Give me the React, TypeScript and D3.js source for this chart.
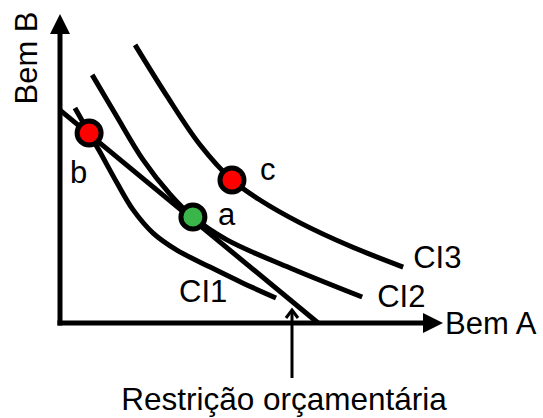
import * as React from 'react';
import {useEffect, useRef} from 'react';
import * as d3 from 'd3';

// data units: both axes run 0..100
const budgetLine = [[0, 68.9], [67.4, 0]];

const ci1 = [
    [3.9, 69.6], [7.6, 61.5], [10.4, 55.4], [14.9, 45.3], [19.1, 36.6],
    [24.3, 29.1], [30.5, 23.6], [39.2, 18.1], [47.8, 12.9], [56.4, 8.1]
];

const ci2 = [
    [8.4, 80.3], [14.6, 67.3], [21.7, 52.8], [28.7, 41.7], [34.7, 34.3],
    [43.6, 26.9], [60.1, 17.8], [78.9, 8.4]
];

const ci3 = [
    [19.6, 90.0], [27.9, 73.5], [36.6, 57.6], [44.9, 46.3], [52.2, 39.8],
    [62.7, 32.4], [75.7, 24.9], [89.6, 18.1]
];

const curveNames = ['CI1', 'CI2', 'CI3'];

const points = [
    {name: 'b', x: 7.6, y: 61.5, color: '#ff0000'},
    {name: 'a', x: 34.7, y: 34.3, color: '#39b54a'},
    {name: 'c', x: 44.9, y: 46.3, color: '#ff0000'}
];

const App = () => {
    const chartRef = useRef(null);
    const width = 543;
    const height = 418;

    useEffect(() => {
        const svg = d3.select(chartRef.current);
        svg.selectAll('*').remove();

        const font = '"Liberation Sans", Arial, sans-serif';
        const fs = 31;

        const xScale = d3.scaleLinear().domain([0, 100]).range([60, 443]);
        const yScale = d3.scaleLinear().domain([0, 100]).range([323, 14]);

        const line = d3.line()
            .x(d => xScale(d[0]))
            .y(d => yScale(d[1]))
            .curve(d3.curveCatmullRom.alpha(0.5));

        // axes
        svg.append('line')
            .attr('x1', xScale(0)).attr('y1', yScale(0) + 2.5)
            .attr('x2', xScale(0)).attr('y2', yScale(100) + 18)
            .attr('stroke', '#000').attr('stroke-width', 5);
        svg.append('path')
            .attr('d', `M${xScale(0)},${yScale(100)} L${xScale(0) - 10},${yScale(100) + 20} L${xScale(0) + 10},${yScale(100) + 20} Z`)
            .attr('fill', '#000');

        svg.append('line')
            .attr('x1', xScale(0) - 2.5).attr('y1', yScale(0))
            .attr('x2', xScale(100) - 18).attr('y2', yScale(0))
            .attr('stroke', '#000').attr('stroke-width', 5);
        svg.append('path')
            .attr('d', `M${xScale(100)},${yScale(0)} L${xScale(100) - 20},${yScale(0) - 10} L${xScale(100) - 20},${yScale(0) + 10} Z`)
            .attr('fill', '#000');

        svg.append('text')
            .attr('x', xScale(100) + 2).attr('y', yScale(0) + 11)
            .style('font-family', font).style('font-size', fs + 'px')
            .text('Bem A');

        svg.append('text')
            .attr('transform', `translate(37, 58) rotate(-90)`)
            .attr('text-anchor', 'middle')
            .style('font-family', font).style('font-size', fs + 'px')
            .text('Bem B');

        // budget line + indifference curves
        svg.append('path')
            .attr('d', d3.line()(budgetLine.map(d => [xScale(d[0]), yScale(d[1])])))
            .attr('fill', 'none').attr('stroke', '#000').attr('stroke-width', 5);

        const curves = [ci1, ci2, ci3];
        const labelOffsets = [[-97, 4], [15, 10], [10, 1]];
        curves.forEach((c, i) => {
            svg.append('path')
                .attr('d', line(c))
                .attr('fill', 'none').attr('stroke', '#000').attr('stroke-width', 5);
            const end = c[c.length - 1];
            svg.append('text')
                .attr('x', xScale(end[0]) + labelOffsets[i][0])
                .attr('y', yScale(end[1]) + labelOffsets[i][1])
                .style('font-family', font).style('font-size', fs + 'px')
                .text(curveNames[i]);
        });

        // arrow pointing to budget line
        svg.append('line')
            .attr('x1', 292).attr('y1', 378).attr('x2', 292).attr('y2', 311)
            .attr('stroke', '#000').attr('stroke-width', 3);
        svg.append('path')
            .attr('d', 'M286,318 L292,310 L298,318')
            .attr('fill', 'none').attr('stroke', '#000').attr('stroke-width', 3);

        svg.append('text')
            .attr('x', 284).attr('y', 410)
            .attr('text-anchor', 'middle')
            .style('font-family', font).style('font-size', '31.5px')
            .text('Restrição orçamentária');

        // points
        const labelPos = {a: [25, 8], b: [-19, 50], c: [28, 0]};
        svg.selectAll('circle')
            .data(points)
            .enter()
            .append('circle')
            .attr('cx', d => xScale(d.x))
            .attr('cy', d => yScale(d.y))
            .attr('r', 12)
            .attr('fill', d => d.color)
            .attr('stroke', '#000')
            .attr('stroke-width', 5);

        svg.selectAll('text.pt')
            .data(points)
            .enter()
            .append('text')
            .attr('class', 'pt')
            .attr('x', d => xScale(d.x) + labelPos[d.name][0])
            .attr('y', d => yScale(d.y) + labelPos[d.name][1])
            .style('font-family', font).style('font-size', fs + 'px')
            .text(d => d.name);
    }, []);

    return (
        <svg ref={chartRef} width={width} height={height}
             style={{position: 'absolute', left: 0, top: 0, background: '#fff'}}></svg>
    );
};

export default App;
